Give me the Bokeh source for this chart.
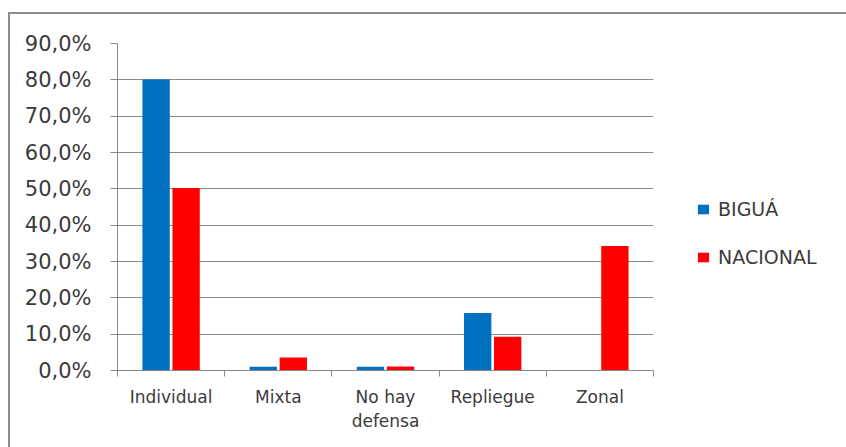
import numpy as np
from bokeh.plotting import figure
from bokeh.layouts import row
from bokeh.models import (ColumnDataSource, Range1d, FixedTicker, Legend, LegendItem)
from bokeh.embed import file_html
from bokeh.resources import INLINE

categories = ["Individual", "Mixta", "No hay\ndefensa", "Repliegue", "Zonal"]
bigua = [80.1, 1.0, 1.0, 15.8, 0.0]
nacional = [50.2, 3.6, 1.1, 9.3, 34.3]
y_ticks = [0, 10, 20, 30, 40, 50, 60, 70, 80, 90]
y_tick_labels = ["0,0%", "10,0%", "20,0%", "30,0%", "40,0%", "50,0%",
                 "60,0%", "70,0%", "80,0%", "90,0%"]
series_names = ["BIGUÁ", "NACIONAL"]
colors = ["#0070C0", "#FF0000"]

FONT = "DejaVu Sans"
TEXT = "#3b3b3b"
GRID = "#8a8a8a"

x_center = np.arange(len(categories)) + 0.5
src = ColumnDataSource(dict(
    xb=x_center - 0.14, xn=x_center + 0.14, bigua=bigua, nacional=nacional))

H = 433
p = figure(width=645, height=H, output_backend="svg", toolbar_location=None,
           x_range=Range1d(0, len(categories)), y_range=Range1d(0, 90),
           min_border_left=107, min_border_right=2,
           min_border_top=29, min_border_bottom=77)
p.outline_line_color = None
p.background_fill_color = "white"
p.border_fill_color = "white"

rb = p.vbar(x="xb", top="bigua", width=0.255, source=src,
            fill_color=colors[0], line_color=None)
rn = p.vbar(x="xn", top="nacional", width=0.255, source=src,
            fill_color=colors[1], line_color=None)

# y axis
p.yaxis.ticker = FixedTicker(ticks=y_ticks)
p.yaxis.major_label_overrides = {t: l for t, l in zip(y_ticks, y_tick_labels)}
p.yaxis.axis_line_color = GRID
p.yaxis.major_tick_line_color = GRID
p.yaxis.major_tick_out = 7
p.yaxis.major_tick_in = 0
p.yaxis.minor_tick_line_color = None
p.yaxis.major_label_standoff = 19
p.yaxis.major_label_text_font = FONT
p.yaxis.major_label_text_font_size = "21px"
p.yaxis.major_label_text_color = TEXT
p.ygrid.ticker = FixedTicker(ticks=y_ticks)
p.ygrid.grid_line_color = GRID
p.ygrid.grid_line_width = 1

# x axis: labels at category centres, tick marks at boundaries
p.xaxis.ticker = FixedTicker(ticks=list(x_center),
                             minor_ticks=list(range(len(categories) + 1)))
p.xaxis.major_label_overrides = {float(x): c for x, c in zip(x_center, categories)}
p.xaxis.axis_line_color = GRID
p.xaxis.major_tick_line_color = None
p.xaxis.major_tick_out = 0
p.xaxis.major_tick_in = 0
p.xaxis.minor_tick_line_color = GRID
p.xaxis.minor_tick_out = 6
p.xaxis.minor_tick_in = 0
p.xaxis.major_label_standoff = 10
p.xaxis.major_label_text_font = FONT
p.xaxis.major_label_text_font_size = "17px"
p.xaxis.major_label_text_color = TEXT
p.xaxis.major_label_text_line_height = 1.2
p.xgrid.grid_line_color = None

# legend panel: a second, axis-less figure holding only the legend
lp = figure(width=191, height=H, output_backend="svg", toolbar_location=None,
            x_range=Range1d(-10, -9), y_range=Range1d(0, 90),
            x_axis_type=None, y_axis_type=None,
            min_border_left=0, min_border_right=0,
            min_border_top=0, min_border_bottom=0)
lp.outline_line_color = None
lp.grid.visible = False
lp.background_fill_color = "white"
lp.border_fill_color = "white"
lb = lp.vbar(x="xb", top="bigua", width=0.255, source=src,
             fill_color=colors[0], line_color=None)
ln = lp.vbar(x="xn", top="nacional", width=0.255, source=src,
             fill_color=colors[1], line_color=None)

legend = Legend(items=[LegendItem(label=series_names[0], renderers=[lb]),
                       LegendItem(label=series_names[1], renderers=[ln])],
                location=(41, 101), orientation="vertical")
legend.border_line_color = None
legend.background_fill_alpha = 0
legend.padding = 0
legend.margin = 0
legend.glyph_width = 14
legend.glyph_height = 12
legend.label_height = 24
legend.spacing = 24
legend.label_standoff = 8
legend.label_text_font = FONT
legend.label_text_font_size = "19px"
legend.label_text_color = TEXT
legend.label_text_baseline = "middle"
lp.add_layout(legend)

layout = row(p, lp)
layout.spacing = 0
layout.margin = (12, 0, 0, 8)
layout.styles = {"border-top": "2px solid #8c8c8c",
                 "border-left": "2px solid #8c8c8c"}

open("out.html", "w").write(file_html(layout, INLINE))
